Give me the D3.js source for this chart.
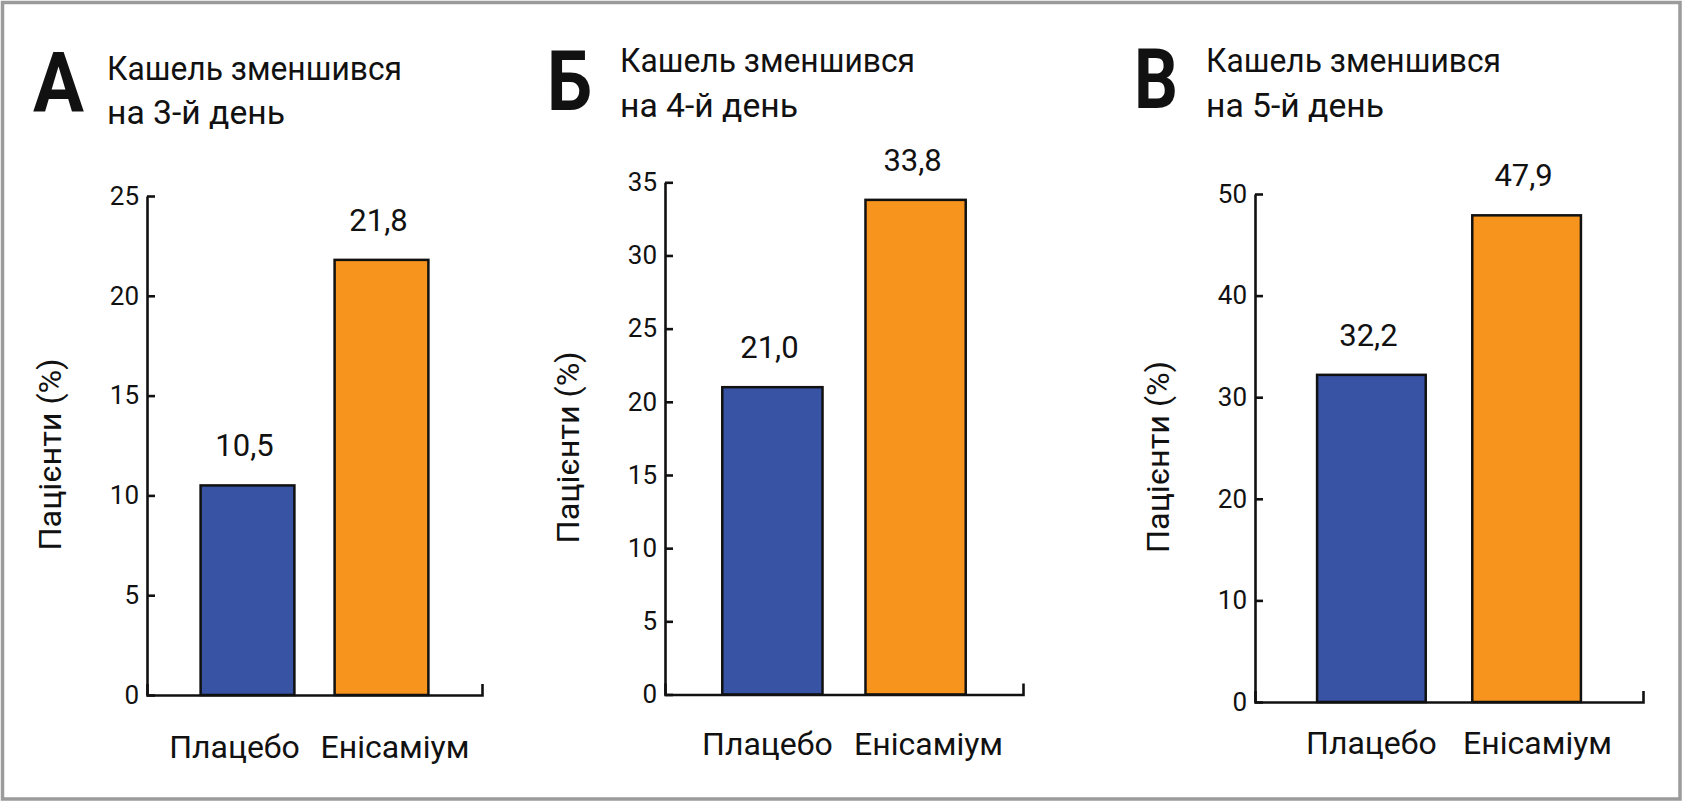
<!DOCTYPE html>
<html>
<head>
<meta charset="utf-8">
<script src="https://cdn.jsdelivr.net/npm/d3@7"></script>
<style>
  html, body { margin: 0; padding: 0; background: #fff; }
  svg { display: block; }
  text { font-family: Roboto, "Noto Sans", sans-serif; fill: #111; }
</style>
</head>
<body>
<svg id="chart" width="1683" height="801"></svg>
<script>
// ---- data ----
const panelLetters = ["А", "Б", "В"];
const titleLine1 = "Кашель зменшився";
const titleLine2 = ["на 3-й день", "на 4-й день", "на 5-й день"];
const categories = ["Плацебо", "Енісаміум"];
const placeboValues = [10.5, 21.0, 32.2];
const enisamiumValues = [21.8, 33.8, 47.9];
const yMaxValues = [25, 35, 50];
const yTickSteps = [5, 5, 10];
const yAxisTitle = "Пацієнти (%)";
const barColors = ["#3953a4", "#f7941e"];

// ---- layout (positions only) ----
const layout = [
  { x0: 147, x1: 482, y0: 695, y1: 196, letterX: 33, letterY: 112, letterW: 51, titleX: 107, t1Y: 80, t2Y: 124, catY: 758, catDx: [-13, 13.5] },
  { x0: 665, x1: 1023, y0: 694.5, y1: 182.3, letterX: 547, letterY: 110, letterW: 45, titleX: 620, t1Y: 71.5, t2Y: 116.5, catY: 755, catDx: [-5, 13] },
  { x0: 1255, x1: 1643, y0: 702, y1: 194, letterX: 1134, letterY: 108, letterW: 44, titleX: 1206, t1Y: 71.5, t2Y: 116.5, catY: 754, catDx: [0, 11] }
];

const svg = d3.select("#chart");

// frame
svg.append("rect")
  .attr("x", 2.5).attr("y", 2.5)
  .attr("width", 1677.5).attr("height", 796.5)
  .attr("fill", "none").attr("stroke", "#9b9b9b").attr("stroke-width", 3.5);

const fmt = v => d3.format(".1f")(v).replace(".", ",");

layout.forEach((L, i) => {
  const g = svg.append("g");
  const values = [placeboValues[i], enisamiumValues[i]];

  const x = d3.scaleBand().domain(categories).range([L.x0, L.x1])
    .paddingInner(0.3).paddingOuter(0.4);
  const y = d3.scaleLinear().domain([0, yMaxValues[i]]).range([L.y0, L.y1]);

  // panel letter
  g.append("text")
    .attr("x", L.letterX).attr("y", L.letterY)
    .attr("font-size", 84).attr("font-weight", 700)
    .attr("textLength", L.letterW).attr("lengthAdjust", "spacingAndGlyphs")
    .text(panelLetters[i]);

  // titles
  g.append("text")
    .attr("x", L.titleX).attr("y", L.t1Y)
    .attr("font-size", 33)
    .attr("textLength", 295).attr("lengthAdjust", "spacingAndGlyphs")
    .text(titleLine1);
  g.append("text")
    .attr("x", L.titleX).attr("y", L.t2Y)
    .attr("font-size", 33)
    .attr("textLength", 178).attr("lengthAdjust", "spacingAndGlyphs")
    .text(titleLine2[i]);

  // bars
  g.selectAll("rect.bar").data(categories).join("rect")
    .attr("class", "bar")
    .attr("x", d => x(d))
    .attr("width", x.bandwidth())
    .attr("y", (d, j) => y(values[j]))
    .attr("height", (d, j) => y(0) - y(values[j]))
    .attr("fill", (d, j) => barColors[j])
    .attr("stroke", "#111").attr("stroke-width", 2.5);

  // value labels
  g.selectAll("text.val").data(categories).join("text")
    .attr("class", "val")
    .attr("x", d => x(d) + x.bandwidth() / 2 - 3)
    .attr("y", (d, j) => y(values[j]) - 29)
    .attr("text-anchor", "middle")
    .attr("font-size", 31)
    .text((d, j) => fmt(values[j]));

  // y axis
  const yAxis = d3.axisLeft(y)
    .tickValues(d3.range(0, yMaxValues[i] + 0.001, yTickSteps[i]))
    .tickSizeInner(-8).tickSizeOuter(0).tickPadding(8);
  const ya = g.append("g").attr("transform", `translate(${L.x0},0)`).call(yAxis);
  ya.select(".domain").attr("stroke", "#111").attr("stroke-width", 2.6);
  ya.selectAll(".tick line").attr("stroke", "#111").attr("stroke-width", 2.6);
  ya.selectAll(".tick text")
    .attr("font-size", 26).attr("fill", "#111")
    .attr("font-family", "Roboto, sans-serif");

  // x axis
  const xAxis = d3.axisBottom(x).tickValues([]).tickSizeOuter(-11);
  const xa = g.append("g").attr("transform", `translate(0,${L.y0})`).call(xAxis);
  xa.select(".domain").attr("stroke", "#111").attr("stroke-width", 2.6).attr("fill", "none");

  // category labels
  g.selectAll("text.cat").data(categories).join("text")
    .attr("class", "cat")
    .attr("x", (d, j) => x(d) + x.bandwidth() / 2 + L.catDx[j])
    .attr("y", L.catY)
    .attr("text-anchor", "middle")
    .attr("font-size", 32)
    .text(d => d);

  // y axis title
  g.append("text")
    .attr("transform", `translate(${L.x0 - 86},${(L.y0 + L.y1) / 2 + 9}) rotate(-90)`)
    .attr("text-anchor", "middle")
    .attr("font-size", 31)
    .attr("textLength", 192).attr("lengthAdjust", "spacingAndGlyphs")
    .text(yAxisTitle);
});
</script>
</body>
</html>
